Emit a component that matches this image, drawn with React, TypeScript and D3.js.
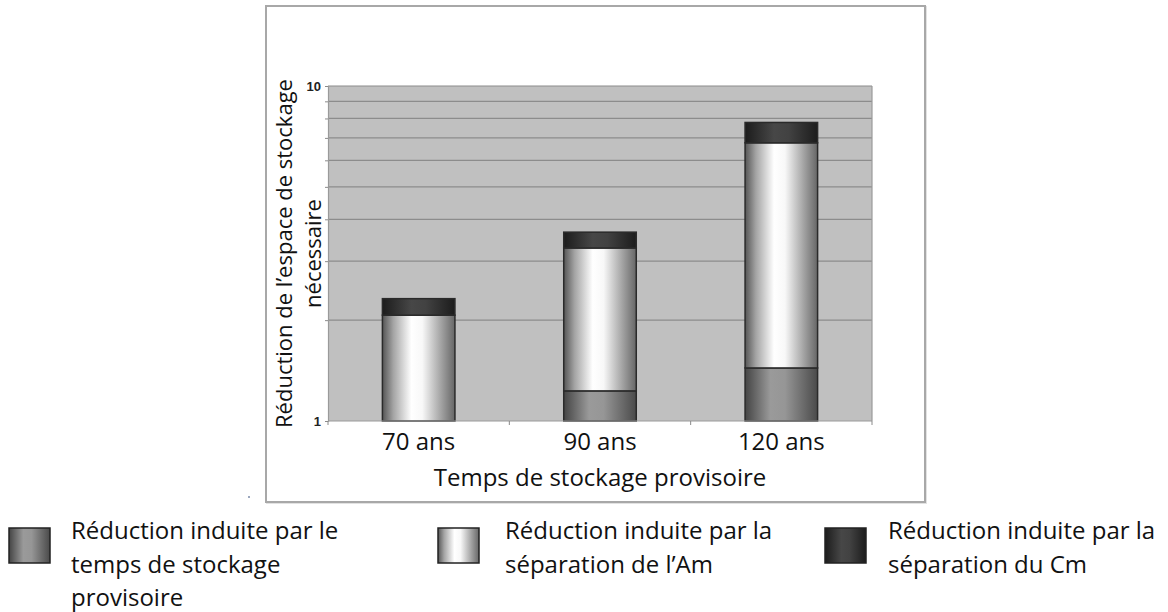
import React, { useEffect, useRef } from 'react';
import * as d3 from 'd3';

// ── Data ─────────────────────────────────────────────────────────────────────
// Factors are multiplicative: each segment stacks on the log axis.
const categories = ['70 ans', '90 ans', '120 ans'];
const storageFactor = [1.0, 1.23, 1.44];
const amFactor = [2.07, 2.67, 4.7];
const cmFactor = [1.12, 1.115, 1.15];
const yTickValues = [1, 2, 3, 4, 5, 6, 7, 8, 9, 10];
const yLabelled = [1, 10];

const seriesKeys = ['storage', 'am', 'cm'];
const seriesFactors = [storageFactor, amFactor, cmFactor];
const legendLabels = [
  ['Réduction induite par le', 'temps de stockage', 'provisoire'],
  ['Réduction induite par la', 'séparation de l’Am'],
  ['Réduction induite par la', 'séparation du Cm'],
];

// ── Layout ───────────────────────────────────────────────────────────────────
const W = 1168;
const H = 612;
const PLOT = { left: 328, right: 872, top: 86, bottom: 421 };
const FONT = '"Open Sans", sans-serif';
const legendPos = [
  { box: 9, text: 71 },
  { box: 438, text: 505 },
  { box: 825, text: 888 },
];

export default function App() {
  const yAxisRef = useRef<SVGGElement>(null);

  const x = d3
    .scaleBand<string>()
    .domain(categories)
    .range([PLOT.left, PLOT.right])
    .paddingInner(0.6)
    .paddingOuter(0.3);

  const y = d3.scaleLog().domain([1, 10]).range([PLOT.bottom, PLOT.top]);

  // cumulative products -> [lo, hi] for each segment
  const stacks = categories.map((cat, i) => {
    let lo = 1;
    return seriesKeys.map((key, s) => {
      const hi = lo * seriesFactors[s][i];
      const seg = { cat, key, lo, hi };
      lo = hi;
      return seg;
    });
  });

  const step = x.step();
  const boundaries = categories
    .map((c) => (x(c) ?? 0) - step * 0.3)
    .concat([PLOT.right]);

  useEffect(() => {
    if (!yAxisRef.current) return;
    const axis = d3
      .axisLeft(y)
      .tickValues(yTickValues)
      .tickSize(3)
      .tickPadding(4)
      .tickFormat((d) => (yLabelled.includes(+d) ? String(d) : ''));
    const g = d3.select(yAxisRef.current);
    g.call(axis as any);
    g.select('.domain').attr('stroke', '#9a9a9a').attr('stroke-width', 1.2);
    g.selectAll('.tick line').attr('stroke', '#8a8a8a');
    g.selectAll('.tick text')
      .attr('fill', '#222')
      .style('font-family', '"Liberation Sans", Arial, sans-serif')
      .style('font-size', '13px')
      .style('font-weight', 'bold');
  }, []);

  return (
    <div style={{ position: 'absolute', left: 0, top: 0 }}>
      <svg width={W} height={H} style={{ display: 'block', background: '#fff' }}>
        <defs>
          <linearGradient id="g-storage" x1="0" x2="1" y1="0" y2="0">
            <stop offset="0" stopColor="#444" />
            <stop offset="0.35" stopColor="#9a9a9a" />
            <stop offset="0.55" stopColor="#969696" />
            <stop offset="1" stopColor="#4a4a4a" />
          </linearGradient>
          <linearGradient id="g-am" x1="0" x2="1" y1="0" y2="0">
            <stop offset="0" stopColor="#555" />
            <stop offset="0.15" stopColor="#a4a4a4" />
            <stop offset="0.4" stopColor="#ffffff" />
            <stop offset="0.55" stopColor="#f8f8f8" />
            <stop offset="0.8" stopColor="#a6a6a6" />
            <stop offset="1" stopColor="#666" />
          </linearGradient>
          <linearGradient id="g-cm" x1="0" x2="1" y1="0" y2="0">
            <stop offset="0" stopColor="#1c1c1c" />
            <stop offset="0.4" stopColor="#474747" />
            <stop offset="0.6" stopColor="#424242" />
            <stop offset="1" stopColor="#1c1c1c" />
          </linearGradient>
        </defs>

        {/* chart frame */}
        <rect x={267} y={7} width={659} height={496} fill="none" stroke="#e2e2e2" strokeWidth={2} />
        <rect x={266} y={6} width={659} height={496} fill="#fff" stroke="#a8a8a8" strokeWidth={2} />
        <circle cx={249} cy={497} r={1} fill="#7a8aa8" />

        {/* plot area */}
        <rect
          x={PLOT.left}
          y={PLOT.top}
          width={PLOT.right - PLOT.left}
          height={PLOT.bottom - PLOT.top}
          fill="#c0c0c0"
        />
        {yTickValues
          .filter((v) => v > 1)
          .map((v) => (
            <line
              key={v}
              x1={PLOT.left}
              x2={PLOT.right}
              y1={y(v)}
              y2={y(v)}
              stroke="#8c8c8c"
              strokeWidth={1.2}
            />
          ))}
        <line x1={PLOT.right} x2={PLOT.right} y1={PLOT.top} y2={PLOT.bottom} stroke="#9a9a9a" strokeWidth={1.2} />

        {/* stacked bars */}
        {stacks.map((segs) =>
          segs.map((s) => {
            const top = y(s.hi);
            const h = y(s.lo) - top;
            if (h <= 0.5) return null;
            return (
              <rect
                key={s.cat + s.key}
                x={x(s.cat)}
                y={top}
                width={x.bandwidth()}
                height={h}
                fill={`url(#g-${s.key})`}
                stroke="#2a2a2a"
                strokeWidth={1.5}
              />
            );
          }),
        )}

        {/* x axis */}
        <line x1={PLOT.left} x2={PLOT.right} y1={PLOT.bottom} y2={PLOT.bottom} stroke="#9a9a9a" strokeWidth={1.2} />
        {boundaries.map((bx, i) => (
          <line key={i} x1={bx} x2={bx} y1={PLOT.bottom} y2={PLOT.bottom + 4} stroke="#8a8a8a" />
        ))}
        {categories.map((c) => (
          <text
            key={c}
            x={(x(c) ?? 0) + x.bandwidth() / 2}
            y={449.5}
            textAnchor="middle"
            fontFamily={FONT}
            fontSize={24}
            fill="#111"
          >
            {c}
          </text>
        ))}
        <text
          x={(PLOT.left + PLOT.right) / 2}
          y={486}
          textAnchor="middle"
          fontFamily={FONT}
          fontSize={24}
          fill="#111"
        >
          Temps de stockage provisoire
        </text>

        {/* y axis */}
        <g ref={yAxisRef} transform={`translate(${PLOT.left},0)`} />
        <g transform="rotate(-90)" fontFamily={FONT} fontSize={22} fill="#111" textAnchor="middle">
          <text x={-(PLOT.top + PLOT.bottom) / 2} y={292}>
            Réduction de l’espace de stockage
          </text>
          <text x={-(PLOT.top + PLOT.bottom) / 2} y={321}>
            nécessaire
          </text>
        </g>

        {/* legend */}
        {seriesKeys.map((key, i) => (
          <g key={key}>
            <rect
              x={legendPos[i].box}
              y={528}
              width={41}
              height={35}
              fill={`url(#g-${key})`}
              stroke="#222"
              strokeWidth={1.5}
            />
            {legendLabels[i].map((line, j) => (
              <text
                key={j}
                x={legendPos[i].text}
                y={539 + j * 33.5}
                fontFamily={FONT}
                fontSize={24}
                fill="#111"
              >
                {line}
              </text>
            ))}
          </g>
        ))}
      </svg>
    </div>
  );
}
